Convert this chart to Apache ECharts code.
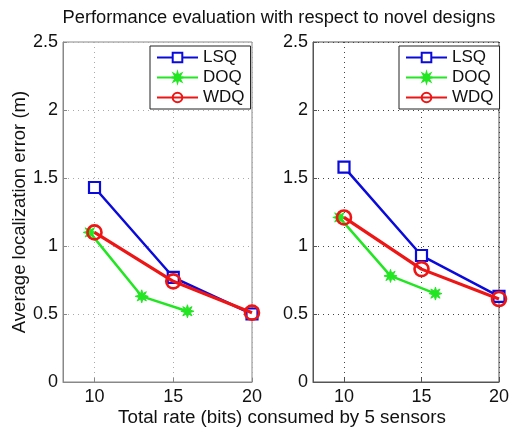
<!DOCTYPE html>
<html>
<head>
<meta charset="utf-8">
<script src="https://cdn.jsdelivr.net/npm/echarts@6/dist/echarts.min.js"></script>
<style>
  html, body { margin: 0; padding: 0; background: #fff; }
  #chart { width: 512px; height: 428px; }
</style>
</head>
<body>
<div id="chart"></div>
<script>
// data
var seriesNames = ['LSQ', 'DOQ', 'WDQ'];
var xTicks = [10, 15, 20];
var yTicks = [0, 0.5, 1, 1.5, 2, 2.5];

// left panel
var lsqX1 = [10, 15, 20];
var lsqY1 = [1.43, 0.77, 0.5];
var doqX1 = [9.7, 13, 15.9];
var doqY1 = [1.1, 0.63, 0.52];
var wdqX1 = [10, 15, 20];
var wdqY1 = [1.1, 0.74, 0.51];

// right panel
var lsqX2 = [10, 15, 20];
var lsqY2 = [1.58, 0.93, 0.63];
var doqX2 = [9.7, 13, 15.9];
var doqY2 = [1.21, 0.78, 0.65];
var wdqX2 = [10, 15, 20];
var wdqY2 = [1.21, 0.83, 0.61];

var FONT = '"Liberation Sans", Arial, sans-serif';
var colors = { LSQ: '#0a0adc', DOQ: '#22e622', WDQ: '#ee1515' };

// 8 point star used as the asterisk marker
function starPath(n, rOut, rIn) {
  var p = [];
  for (var i = 0; i < 2 * n; i++) {
    var r = i % 2 ? rIn : rOut;
    var a = Math.PI * i / n - Math.PI / 2;
    p.push((i ? 'L' : 'M') + (r * Math.cos(a)).toFixed(2) + ',' + (r * Math.sin(a)).toFixed(2));
  }
  return 'path://' + p.join('') + 'Z';
}
var asterisk = starPath(8, 10, 4.5);

function pairs(xs, ys) {
  return xs.map(function (x, i) { return [x, ys[i]]; });
}

function makeSeries(idx, lsq, doq, wdq) {
  return [
    {
      name: 'LSQ', type: 'line', xAxisIndex: idx, yAxisIndex: idx,
      data: lsq, symbol: 'rect', symbolSize: 11,
      lineStyle: { color: colors.LSQ, width: 2.5 },
      itemStyle: { color: '#fff', borderColor: colors.LSQ, borderWidth: 2.2 },
      z: 2
    },
    {
      name: 'DOQ', type: 'line', xAxisIndex: idx, yAxisIndex: idx,
      data: doq, symbol: asterisk, symbolSize: 13, symbolKeepAspect: true,
      lineStyle: { color: colors.DOQ, width: 2.5 },
      itemStyle: { color: colors.DOQ, borderColor: colors.DOQ, borderWidth: 1 },
      z: 3
    },
    {
      name: 'WDQ', type: 'line', xAxisIndex: idx, yAxisIndex: idx,
      data: wdq, symbol: 'circle', symbolSize: 14,
      lineStyle: { color: colors.WDQ, width: 3.2 },
      itemStyle: { color: 'rgba(255,255,255,0)', borderColor: colors.WDQ, borderWidth: 2.6 },
      z: 4
    }
  ];
}

function makeX(idx, frame, grid) {
  return {
    type: 'value', gridIndex: idx, min: 8, max: 20,
    axisLine: { show: true, lineStyle: { color: frame, width: 1 } },
    axisTick: { show: true, inside: true, length: 4, customValues: xTicks, lineStyle: { color: frame } },
    axisLabel: { customValues: xTicks, color: '#111', fontSize: 18, fontFamily: FONT, margin: 6 },
    splitLine: { show: true, lineStyle: { color: grid, type: [1, 4], width: 1 } }
  };
}

function makeY(idx, frame, grid, withName) {
  var ax = {
    type: 'value', gridIndex: idx, min: 0, max: 2.5, interval: 0.5,
    axisLine: { show: true, lineStyle: { color: frame, width: 1 } },
    axisTick: { show: true, inside: true, length: 4, lineStyle: { color: frame } },
    axisLabel: {
      color: '#111', fontSize: 18, fontFamily: FONT, margin: 5,
      formatter: function (v) { return String(v); }
    },
    splitLine: { show: true, lineStyle: { color: grid, type: [1, 4], width: 1 } }
  };
  if (withName) {
    ax.name = 'Average localization error (m)';
    ax.nameLocation = 'middle';
    ax.nameGap = 33;
    ax.nameTextStyle = { color: '#111', fontSize: 18.5, fontFamily: FONT };
  }
  return ax;
}

function makeLegend(left) {
  return {
    data: seriesNames, orient: 'vertical', left: left, top: 46,
    width: 95, itemWidth: 41, itemHeight: 12, itemGap: 3,
    padding: [3, 6, 3, 6],
    backgroundColor: '#fff', borderColor: '#222', borderWidth: 1, borderRadius: 0,
    textStyle: { color: '#111', fontSize: 17, fontFamily: FONT },
    selectedMode: false
  };
}

var chart = echarts.init(document.getElementById('chart'));
chart.setOption({
  backgroundColor: '#fff',
  animation: false,
  title: [
    {
      text: 'Performance evaluation with respect to novel designs',
      left: 279, top: 9, textAlign: 'center', padding: 0,
      textStyle: { color: '#111', fontSize: 18.3, fontWeight: 'normal', fontFamily: FONT }
    },
    {
      text: 'Total rate (bits) consumed by 5 sensors',
      left: 282, top: 408, textAlign: 'center', padding: 0,
      textStyle: { color: '#111', fontSize: 18.8, fontWeight: 'normal', fontFamily: FONT }
    }
  ],
  legend: [makeLegend(150), makeLegend(399)],
  grid: [
    { left: 63, right: 260, top: 42, bottom: 46, show: true, borderColor: '#888', borderWidth: 1 },
    { left: 313, right: 11, top: 42, bottom: 46, show: true, borderColor: '#555', borderWidth: 1 }
  ],
  xAxis: [makeX(0, '#888', '#aaa'), makeX(1, '#555', '#444')],
  yAxis: [makeY(0, '#888', '#aaa', true), makeY(1, '#555', '#444', false)],
  series: makeSeries(0, pairs(lsqX1, lsqY1), pairs(doqX1, doqY1), pairs(wdqX1, wdqY1))
    .concat(makeSeries(1, pairs(lsqX2, lsqY2), pairs(doqX2, doqY2), pairs(wdqX2, wdqY2)))
});
</script>
</body>
</html>
